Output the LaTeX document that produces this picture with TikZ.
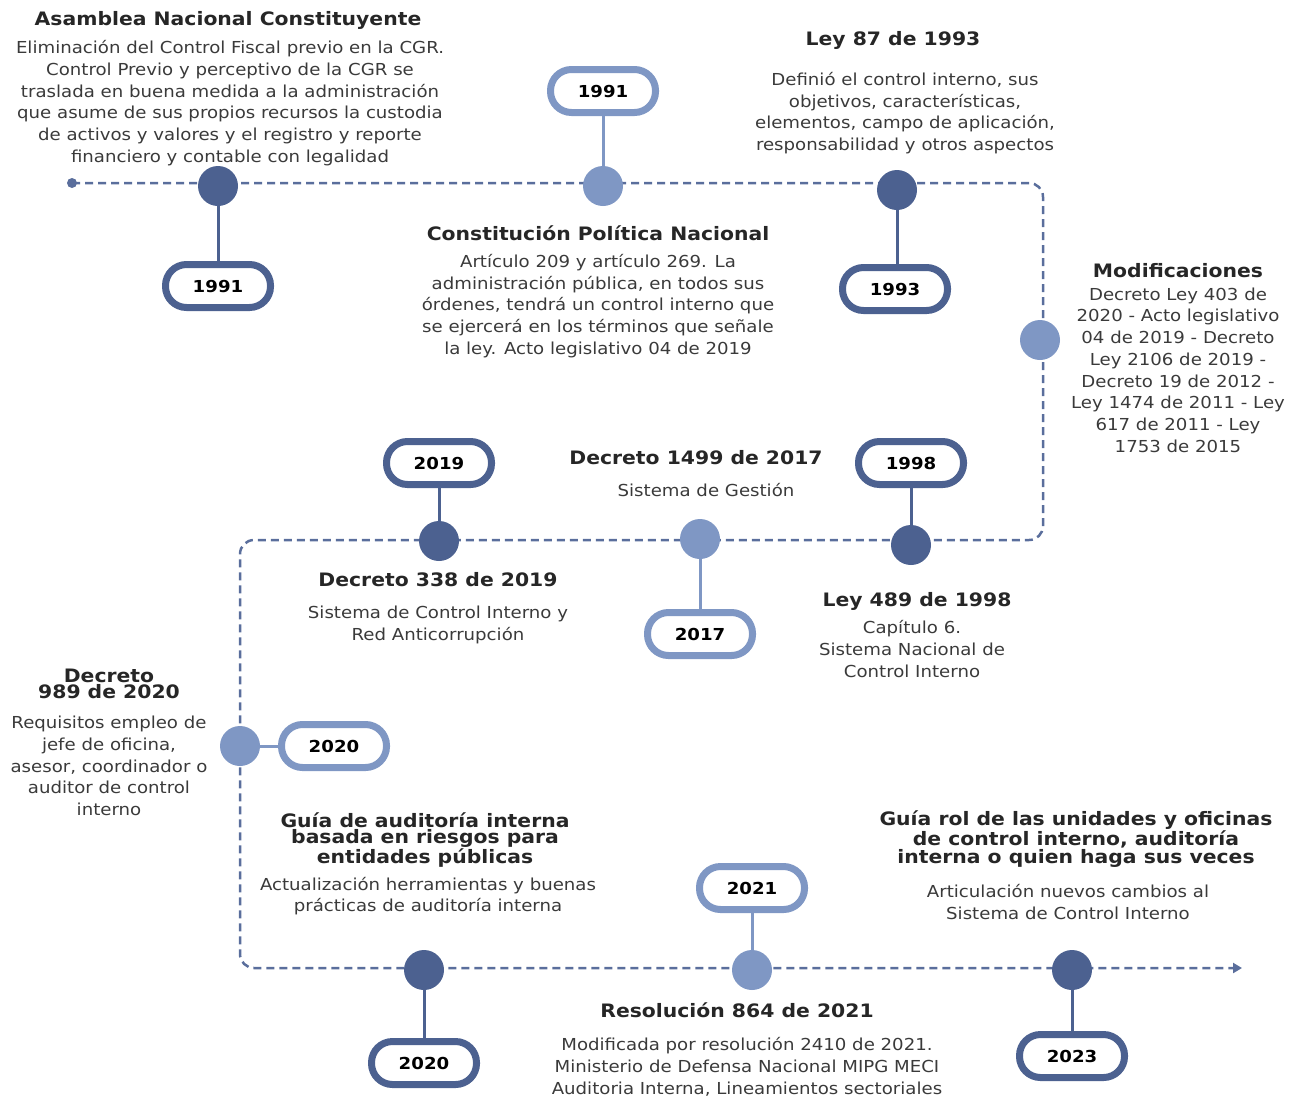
\documentclass[tikz,border=0pt]{standalone}
\usepackage{fontspec}
\setmainfont{DejaVu Sans}[FakeStretch=1.1]
\usetikzlibrary{arrows.meta}

\definecolor{darkdot}{HTML}{4C6190}
\definecolor{lightdot}{HTML}{7F97C4}
\definecolor{dashcol}{HTML}{5A6E9C}
\definecolor{titletxt}{HTML}{262626}
\definecolor{bodytxt}{HTML}{3A3A3A}

\tikzset{
  dotdark/.style={circle,fill=darkdot,minimum size=40pt,inner sep=0pt},
  dotlight/.style={circle,fill=lightdot,minimum size=40pt,inner sep=0pt},
  pill/.style={rectangle,rounded corners=21pt,fill=white,line width=7pt,
    minimum width=105pt,minimum height=43pt,inner sep=0pt,
    font=\fontsize{16.5}{18}\selectfont\bfseries,text=black},
  pilldark/.style={pill,draw=darkdot},
  pilllight/.style={pill,draw=lightdot},
  linkdark/.style={darkdot,line width=3pt},
  linklight/.style={lightdot,line width=3pt},
  timeline/.style={dashcol,line width=2.5pt,dash pattern=on 8pt off 5pt,
    rounded corners=14pt,-{Triangle[length=9pt,width=10pt]}},
  titlebox/.style={align=center,inner sep=0pt,text=titletxt,
    font=\fontsize{18.5}{22}\selectfont\bfseries},
  tighttitle/.style={titlebox,font=\fontsize{18.5}{16.5}\selectfont\bfseries},
  bodybox/.style={align=center,inner sep=0pt,text=bodytxt,
    font=\fontsize{16.5}{21.7}\selectfont}
}

\begin{document}
\begin{tikzpicture}[x=1pt,y=-1pt]
\useasboundingbox (0,0) rectangle (1297,1098);

% path of the timeline
\coordinate (start) at (72,183);
\coordinate (turnA) at (1043,183);
\coordinate (turnB) at (1043,540);
\coordinate (turnC) at (240,540);
\coordinate (turnD) at (240,968);
\coordinate (finish) at (1242,968);
\draw[timeline] (start) -- (turnA) -- (turnB) -- (turnC) -- (turnD) -- (finish);
\fill[dashcol] (start) circle (5pt);

% dots on the line
\node[dotdark]  (asamblea) at (218,186) {};
\node[dotlight] (constit)  at (603,186) {};
\node[dotdark]  (ley87)    at (897,190) {};
\node[dotlight] (modif)    at (1040,340) {};
\node[dotdark]  (dec338)   at (439,541) {};
\node[dotlight] (dec1499)  at (700,539) {};
\node[dotdark]  (ley489)   at (911,545) {};
\node[dotlight] (dec989)   at (240,746) {};
\node[dotdark]  (guiaaud)  at (424,970) {};
\node[dotlight] (resol)    at (752,970) {};
\node[dotdark]  (guiarol)  at (1072,970) {};

% years
\node[pilldark]  (yAsamblea) at (218,286)  {1991};
\node[pilllight] (yConstit)  at (603,91)   {1991};
\node[pilldark]  (yLey87)    at (895,289)  {1993};
\node[pilldark]  (yDec338)   at (439,463)  {2019};
\node[pilllight] (yDec1499)  at (700,634)  {2017};
\node[pilldark]  (yLey489)   at (911,463)  {1998};
\node[pilllight] (yDec989)   at (334,746)  {2020};
\node[pilldark]  (yGuiaaud)  at (424,1063) {2020};
\node[pilllight] (yResol)    at (752,888)  {2021};
\node[pilldark]  (yGuiarol)  at (1072,1056) {2023};

\draw[linkdark]  (asamblea) -- (yAsamblea);
\draw[linklight] (constit) -- (yConstit);
\draw[linkdark]  (ley87) -- (ley87 |- yLey87.north);
\draw[linkdark]  (dec338) -- (yDec338);
\draw[linklight] (dec1499) -- (yDec1499);
\draw[linkdark]  (ley489) -- (yLey489);
\draw[linklight] (dec989) -- (yDec989);
\draw[linkdark]  (guiaaud) -- (yGuiaaud);
\draw[linklight] (resol) -- (yResol);
\draw[linkdark]  (guiarol) -- (yGuiarol);

% texts
\node[titlebox] (tAsamblea) at (228,20) {Asamblea Nacional Constituyente};
\node[bodybox]  (bAsamblea) at (230,103) {Eliminación del Control Fiscal previo en la CGR.\\
  Control Previo y perceptivo de la CGR se\\
  traslada en buena medida a la administración\\
  que asume de sus propios recursos la custodia\\
  de activos y valores y el registro y reporte\\
  financiero y contable con legalidad};

\node[titlebox] (tLey87) at (893,40) {Ley 87 de 1993};
\node[bodybox]  (bLey87) at (905,113) {Definió el control interno, sus\\
  objetivos, características,\\
  elementos, campo de aplicación,\\
  responsabilidad y otros aspectos};

\node[titlebox] (tConstit) at (598,233) {Constitución Política Nacional};
\node[bodybox]  (bConstit) at (598,306) {Artículo 209 y artículo 269. La\\
  administración pública, en todos sus\\
  órdenes, tendrá un control interno que\\
  se ejercerá en los términos que señale\\
  la ley. Acto legislativo 04 de 2019};

\node[titlebox] (tModif) at (1178,271) {Modificaciones};
\node[bodybox]  (bModif) at (1178,370) {Decreto Ley 403 de\\
  2020 - Acto legislativo\\
  04 de 2019 - Decreto\\
  Ley 2106 de 2019 -\\
  Decreto 19 de 2012 -\\
  Ley 1474 de 2011 - Ley\\
  617 de 2011 - Ley\\
  1753 de 2015};

\node[titlebox] (tDec1499) at (696,458) {Decreto 1499 de 2017};
\node[bodybox]  (bDec1499) at (706,490) {Sistema de Gestión};

\node[titlebox] (tDec338) at (438,580) {Decreto 338 de 2019};
\node[bodybox]  (bDec338) at (438,625) {Sistema de Control Interno y\\
  Red Anticorrupción};

\node[titlebox] (tLey489) at (917,601) {Ley 489 de 1998};
\node[bodybox]  (bLey489) at (912,649) {Capítulo 6.\\
  Sistema Nacional de\\
  Control Interno};

\node[tighttitle] (tDec989) at (109,684) {Decreto\\989 de 2020};
\node[bodybox]    (bDec989) at (109,766) {Requisitos empleo de\\
  jefe de oficina,\\
  asesor, coordinador o\\
  auditor de control\\
  interno};

\node[tighttitle] (tGuiaaud) at (425,840) {Guía de auditoría interna\\
  basada en riesgos para\\
  entidades públicas};
\node[bodybox]    (bGuiaaud) at (428,896) {Actualización herramientas y buenas\\
  prácticas de auditoría interna};

\node[titlebox] (tResol) at (737,1010) {Resolución 864 de 2021};
\node[bodybox]  (bResol) at (747,1067) {Modificada por resolución 2410 de 2021.\\
  Ministerio de Defensa Nacional MIPG MECI\\
  Auditoria Interna, Lineamientos sectoriales};

\node[tighttitle] (tGuiarol) at (1076,839) {Guía rol de las unidades y oficinas\\
  de control interno, auditoría\\
  interna o quien haga sus veces};
\node[bodybox]    (bGuiarol) at (1068,902) {Articulación nuevos cambios al\\
  Sistema de Control Interno};

\end{tikzpicture}
\end{document}
